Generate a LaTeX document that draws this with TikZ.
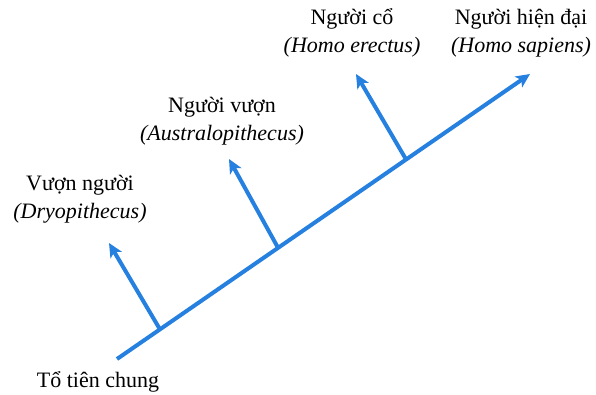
\documentclass[tikz,border=0pt]{standalone}
\usepackage{fontspec}
\setmainfont{Liberation Serif}
\usetikzlibrary{arrows.meta,calc}
\definecolor{treeblue}{RGB}{38,128,224}
\tikzset{
  lineage/.style={
    draw=treeblue,
    line width=4pt,
    -{Stealth[length=14pt,width=13pt,inset=3.5pt]}
  },
  taxon/.style={
    align=center,
    inner sep=0pt,
    font=\fontsize{22}{28}\selectfont
  }
}
\begin{document}
\begin{tikzpicture}[x=1pt,y=-1pt]
    \useasboundingbox (0,0) rectangle (596,395);
    % stem and branch points
    \coordinate (root) at (117,359);
    \coordinate (top) at (530,74);
    \coordinate (b1) at ($(root)!0.104!(top)$);
    \coordinate (b2) at ($(root)!0.39!(top)$);
    \coordinate (b3) at ($(root)!0.70!(top)$);
    \coordinate (t1) at (109,243);
    \coordinate (t2) at (229,159);
    \coordinate (t3) at (356,74);
    % labels
    \node[taxon] (ancestor) at (98,382) {Tổ tiên chung};
    \node[taxon] (dryo) at (80,199) {Vượn người\\\textit{(Dryopithecus)}};
    \node[taxon] (austra) at (222,121) {Người vượn\\\textit{(Australopithecus)}};
    \node[taxon] (erectus) at (352,33) {Người cổ\\\textit{(Homo erectus)}};
    \node[taxon] (sapiens) at (521,33) {Người hiện đại\\\textit{(Homo sapiens)}};
    % branches
    \draw[lineage] (root) -- (top);
    \draw[lineage] (b1) -- (t1);
    \draw[lineage] (b2) -- (t2);
    \draw[lineage] (b3) -- (t3);
\end{tikzpicture}
\end{document}
